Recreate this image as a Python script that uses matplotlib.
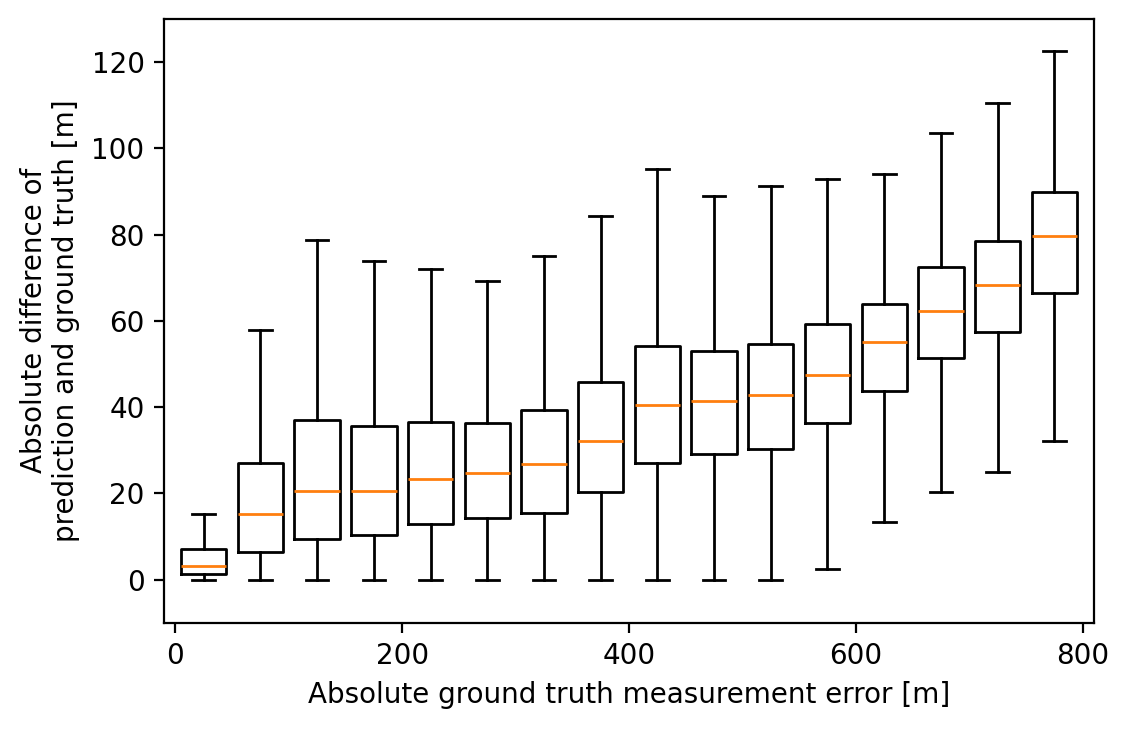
import matplotlib
matplotlib.use("Agg")
import matplotlib.pyplot as plt

# bin centres of the ground truth error [m]
positions = [25, 75, 125, 175, 225, 275, 325, 375, 425, 475, 525, 575, 625, 675, 725, 775]

# box statistics
whislo = [0, 0, 0, 0, 0, 0, 0, 0, 0, 0, 0, 2.5, 13.4, 20.3, 25.0, 32.2]
q1 = [1.2, 6.5, 9.4, 10.4, 13.0, 14.3, 15.5, 20.4, 27.0, 29.2, 30.3, 36.4, 43.8, 51.4, 57.3, 66.5]
med = [3.2, 15.1, 20.6, 20.6, 23.4, 24.6, 26.7, 32.2, 40.5, 41.5, 42.9, 47.5, 55.2, 62.3, 68.4, 79.7]
q3 = [7.0, 27.1, 37.0, 35.7, 36.6, 36.4, 39.4, 45.9, 54.2, 53.1, 54.7, 59.2, 64.0, 72.4, 78.6, 89.8]
whishi = [15.3, 57.8, 78.7, 73.9, 72.1, 69.2, 75.1, 84.2, 95.1, 88.9, 91.3, 93.0, 94.1, 103.6, 110.5, 122.6]

stats = []
for i in range(len(positions)):
    stats.append({"whislo": whislo[i], "q1": q1[i], "med": med[i],
                  "q3": q3[i], "whishi": whishi[i], "fliers": []})

fig, ax = plt.subplots(figsize=(5.645, 3.65), dpi=200)
fig.subplots_adjust(left=0.1453, right=0.969, top=0.974, bottom=0.147)

ax.bxp(stats, positions=positions, widths=40, showfliers=False)

ax.set_xlim(-10, 810)
ax.set_ylim(-10, 130)
ax.set_xticks([0, 200, 400, 600, 800])
ax.set_xticklabels(["0", "200", "400", "600", "800"])
ax.set_yticks([0, 20, 40, 60, 80, 100, 120])

ax.set_xlabel("Absolute ground truth measurement error [m]")
ax.set_ylabel("Absolute difference of\nprediction and ground truth [m]")

plt.savefig("out.png", dpi=200)
